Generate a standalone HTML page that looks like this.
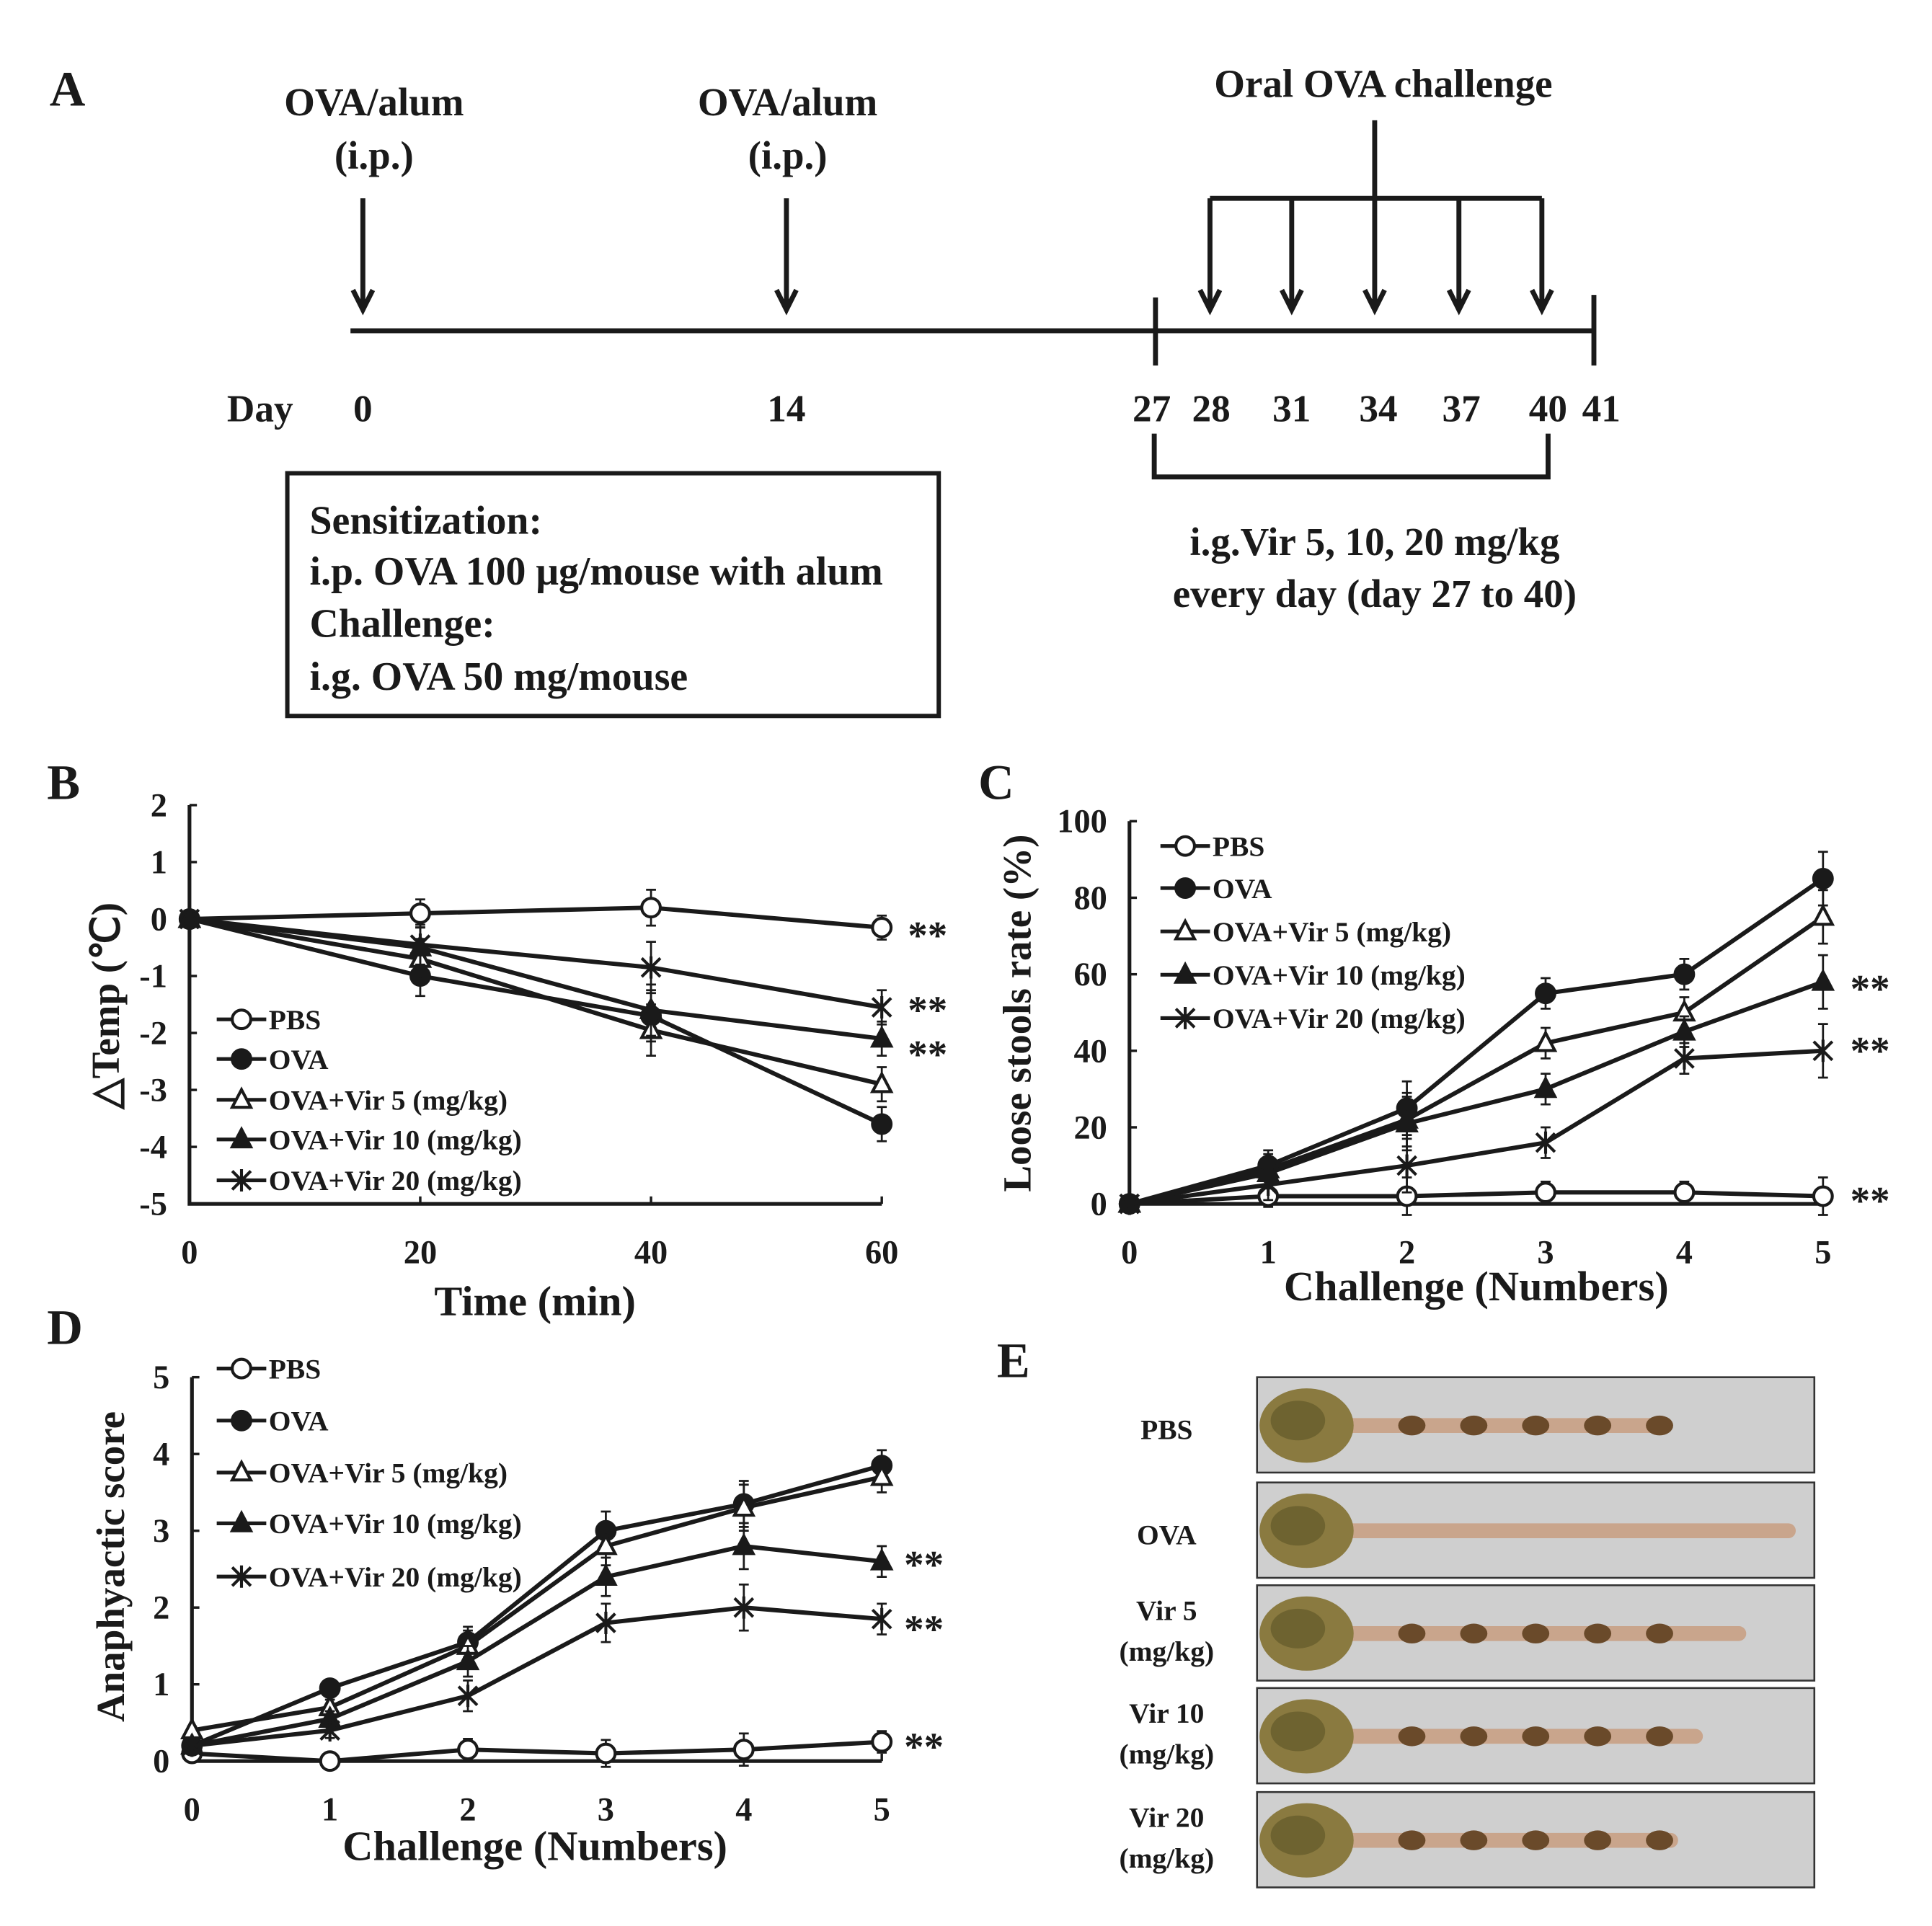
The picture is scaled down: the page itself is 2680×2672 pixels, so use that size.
<!DOCTYPE html>
<html><head><meta charset="utf-8"><style>
html,body{margin:0;padding:0;background:#fff}
svg{display:block}
text{font-family:"Liberation Serif",serif;font-weight:bold;fill:#1a1a1a}
</style></head><body>
<svg id="fig" width="2680" height="2672" viewBox="0 0 1560 1555" xmlns="http://www.w3.org/2000/svg">
<g id="panelA" stroke="#1a1a1a" stroke-width="4" fill="none">
<text x="40" y="85" font-size="40" stroke="none">A</text>
<text x="302" y="93" font-size="32" text-anchor="middle" stroke="none">OVA/alum</text>
<text x="302" y="136" font-size="32" text-anchor="middle" stroke="none">(i.p.)</text>
<text x="636" y="93" font-size="32" text-anchor="middle" stroke="none">OVA/alum</text>
<text x="636" y="136" font-size="32" text-anchor="middle" stroke="none">(i.p.)</text>
<text x="1117" y="78" font-size="32" text-anchor="middle" stroke="none">Oral OVA challenge</text>
<g>
<path d="M293,160 V250 M285,234 L293,250 L301,234"/>
<path d="M635,160 V250 M627,234 L635,250 L643,234"/>
<path d="M977,160 V250 M969,234 L977,250 L985,234"/>
<path d="M1043,160 V250 M1035,234 L1043,250 L1051,234"/>
<path d="M1110,160 V250 M1102,234 L1110,250 L1118,234"/>
<path d="M1178,160 V250 M1170,234 L1178,250 L1186,234"/>
<path d="M1245,160 V250 M1237,234 L1245,250 L1253,234"/>
</g>
<line x1="283" y1="267" x2="1287" y2="267"/>
<line x1="933" y1="240" x2="933" y2="295"/>
<line x1="1287" y1="238" x2="1287" y2="295"/>
<line x1="1110" y1="97" x2="1110" y2="160"/>
<line x1="977" y1="160" x2="1245" y2="160"/>
<g stroke="none" font-size="31" text-anchor="middle">
<text x="210" y="340">Day</text><text x="293" y="340">0</text><text x="635" y="340">14</text>
<text x="930" y="340">27</text><text x="978" y="340">28</text><text x="1043" y="340">31</text>
<text x="1113" y="340">34</text><text x="1180" y="340">37</text><text x="1250" y="340">40</text><text x="1293" y="340">41</text>
<text x="1110" y="448" font-size="32">i.g.Vir 5, 10, 20 mg/kg</text>
<text x="1110" y="490" font-size="32">every day (day 27 to 40)</text>
</g>
<path d="M932,350 V385 H1250 V350"/>
<rect x="232" y="382" width="526" height="196" stroke-width="3.5"/>
<g stroke="none" font-size="32.5">
<text x="250" y="431">Sensitization:</text>
<text x="250" y="472">i.p. OVA 100 μg/mouse with alum</text>
<text x="250" y="514">Challenge:</text>
<text x="250" y="557">i.g. OVA 50 mg/mouse</text>
</g>
</g>
<g id="charts"></g>
<g id="panelE"></g>
</svg>
<script>
// Panel B data
const bX = [0, 20, 40, 60];
const bPBS = [0, 0.1, 0.2, -0.15];
const bOVA = [0, -1.0, -1.7, -3.6];
const bVir5 = [0, -0.7, -1.95, -2.9];
const bVir10 = [0, -0.5, -1.6, -2.1];
const bVir20 = [0, -0.45, -0.85, -1.55];
const bErr = [0, 0.35, 0.45, 0.3];
const bXTicks = [0, 20, 40, 60];
const bYTicks = [2, 1, 0, -1, -2, -3, -4, -5];
// Panel C data
const cX = [0, 1, 2, 3, 4, 5];
const cPBS = [0, 2, 2, 3, 3, 2];
const cOVA = [0, 10, 25, 55, 60, 85];
const cVir5 = [0, 9, 22, 42, 50, 75];
const cVir10 = [0, 8, 21, 30, 45, 58];
const cVir20 = [0, 5, 10, 16, 38, 40];
const cErr = [0, 4, 7, 4, 4, 7];
const cXTicks = [0, 1, 2, 3, 4, 5];
const cYTicks = [0, 20, 40, 60, 80, 100];
// Panel D data
const dX = [0, 1, 2, 3, 4, 5];
const dPBS = [0.1, 0, 0.15, 0.1, 0.15, 0.25];
const dOVA = [0.2, 0.95, 1.55, 3.0, 3.35, 3.85];
const dVir5 = [0.4, 0.7, 1.5, 2.8, 3.3, 3.7];
const dVir10 = [0.2, 0.55, 1.3, 2.4, 2.8, 2.6];
const dVir20 = [0.2, 0.4, 0.85, 1.8, 2.0, 1.85];
const dErr = [0.05, 0.1, 0.2, 0.25, 0.3, 0.2];
const dXTicks = [0, 1, 2, 3, 4, 5];
const dYTicks = [0, 1, 2, 3, 4, 5];
const legendNames = ["PBS", "OVA", "OVA+Vir  5  (mg/kg)", "OVA+Vir 10 (mg/kg)", "OVA+Vir 20 (mg/kg)"];
const markers = ["oc", "fc", "ot", "ft", "st"];

const NS = "http://www.w3.org/2000/svg";
const root = document.getElementById('charts');
function mk(tag, attrs, parent) {
  const e = document.createElementNS(NS, tag);
  for (const k in attrs) e.setAttribute(k, attrs[k]);
  (parent || root).appendChild(e);
  return e;
}
function txt(x, y, s, size, parent, anchor, extra) {
  const t = mk('text', Object.assign({x: x, y: y, 'font-size': size, 'text-anchor': anchor || 'start'}, extra || {}), parent);
  t.textContent = s;
  return t;
}
function marker(g, type, x, y, r) {
  const st = {stroke: '#1a1a1a', 'stroke-width': 2.4};
  if (type === 'oc') mk('circle', Object.assign({cx: x, cy: y, r: r, fill: '#fff'}, st), g);
  else if (type === 'fc') mk('circle', Object.assign({cx: x, cy: y, r: r, fill: '#1a1a1a'}, st), g);
  else if (type === 'ot' || type === 'ft') mk('path', Object.assign({d: `M${x},${y - r * 1.1} L${x + r},${y + r * 0.8} L${x - r},${y + r * 0.8} Z`, fill: type === 'ft' ? '#1a1a1a' : '#fff'}, st), g);
  else mk('path', Object.assign({d: `M${x - r},${y - r} L${x + r},${y + r} M${x - r},${y + r} L${x + r},${y - r} M${x},${y - r * 1.2} L${x},${y + r * 1.2}`, fill: 'none'}, st), g);
}
function chart(cfg) {
  const g = mk('g', {});
  
  
  const sx = v => cfg.x0 + (v - cfg.xmin) / (cfg.xmax - cfg.xmin) * (cfg.x1 - cfg.x0);
  const sy = v => cfg.y0 - (v - cfg.ymin) / (cfg.ymax - cfg.ymin) * (cfg.y0 - cfg.y1);
  const ax = mk('path', {d: `M${cfg.x0},${cfg.y1} V${cfg.y0} H${cfg.x1}`, fill: 'none', stroke: '#1a1a1a', 'stroke-width': 3}, g);
  
  
  cfg.yTicks.forEach(v => {
    mk('line', {x1: cfg.x0, x2: cfg.x0 + 6, y1: sy(v), y2: sy(v), stroke: '#1a1a1a', 'stroke-width': 2}, g);
    const t = txt(cfg.x0 - 18, sy(v) + 9, String(v), 27, g, 'end');
    
    
  });
  cfg.xTicks.forEach(v => {
    mk('line', {x1: sx(v), x2: sx(v), y1: cfg.y0, y2: cfg.y0 - 6, stroke: '#1a1a1a', 'stroke-width': 2}, g);
    const t = txt(sx(v), cfg.y0 + 48, String(v), 27, g, 'middle');
    
    
  });
  const xt = txt(cfg.xtx, cfg.xty, cfg.xtitle, 34, g, 'middle');
  
  
  const yt = txt(0, 0, cfg.ytitle, 32, g, 'middle', {transform: `translate(${cfg.ytx},${cfg.yty}) rotate(-90)`});
  
  
  const pl = txt(cfg.lx, cfg.ly, cfg.label, 40, g);
  
  
  cfg.series.forEach((ys, i) => {
    const sg = mk('g', {}, g);
    
    
    const d = ys.map((v, j) => (j ? 'L' : 'M') + sx(cfg.xs[j]) + ',' + sy(v)).join(' ');
    mk('path', {d: d, fill: 'none', stroke: '#1a1a1a', 'stroke-width': 3.5}, sg);
    ys.forEach((v, j) => {
      const e = cfg.err[j] * (i === 0 ? 0.7 : 1);
      if (e > 0) mk('path', {d: `M${sx(cfg.xs[j])},${sy(v + e)} V${sy(v - e)} M${sx(cfg.xs[j]) - 4},${sy(v + e)} H${sx(cfg.xs[j]) + 4} M${sx(cfg.xs[j]) - 4},${sy(v - e)} H${sx(cfg.xs[j]) + 4}`, stroke: '#1a1a1a', 'stroke-width': 1.6, fill: 'none'}, sg);
      marker(sg, markers[i], sx(cfg.xs[j]), sy(v), 7.5);
    });
  });
  cfg.legY.forEach((y, i) => {
    const lg = mk('g', {}, g);
    
    
    mk('line', {x1: cfg.legX, x2: cfg.legX + 40, y1: y, y2: y, stroke: '#1a1a1a', 'stroke-width': 3}, lg);
    marker(lg, markers[i], cfg.legX + 20, y, 7.5);
    txt(cfg.legX + 42, y + 8, legendNames[i], 23, lg);
  });
  cfg.stars.forEach(y => {
    const s = txt(cfg.starX, y + 14, '**', 32, g);
    
    
  });
}
chart({name: 'panel-b-temp-chart', label: 'B', lx: 38, ly: 645, x0: 153, x1: 712, y0: 972, y1: 650, xmin: 0, xmax: 60, ymin: -5, ymax: 2,
  xs: bX, series: [bPBS, bOVA, bVir5, bVir10, bVir20], err: bErr, xTicks: bXTicks, yTicks: bYTicks,
  xtitle: 'Time (min)', xtx: 432, xty: 1062, ytitle: '△Temp (℃)', ytx: 96, yty: 812,
  legX: 175, legY: [823, 855, 888, 920, 953], starX: 733, stars: [752, 812, 848]});
chart({name: 'panel-c-loose-stools-chart', label: 'C', lx: 790, ly: 645, x0: 912, x1: 1472, y0: 972, y1: 663, xmin: 0, xmax: 5, ymin: 0, ymax: 100,
  xs: cX, series: [cPBS, cOVA, cVir5, cVir10, cVir20], err: cErr, xTicks: cXTicks, yTicks: cYTicks,
  xtitle: 'Challenge (Numbers)', xtx: 1192, xty: 1050, ytitle: 'Loose stools rate (%)', ytx: 832, yty: 818,
  legX: 937, legY: [683, 717, 752, 787, 822], starX: 1494, stars: [795, 845, 966]});
chart({name: 'panel-d-anaphylactic-chart', label: 'D', lx: 38, ly: 1085, x0: 155, x1: 712, y0: 1422, y1: 1112, xmin: 0, xmax: 5, ymin: 0, ymax: 5,
  xs: dX, series: [dPBS, dOVA, dVir5, dVir10, dVir20], err: dErr, xTicks: dXTicks, yTicks: dYTicks,
  xtitle: 'Challenge (Numbers)', xtx: 432, xty: 1502, ytitle: 'Anaphyactic score', ytx: 100, yty: 1265,
  legX: 175, legY: [1105, 1147, 1189, 1230, 1273], starX: 730, stars: [1260, 1312, 1407]});

// Panel E photos
const pe = document.getElementById('panelE');
const eLabels = [["PBS"], ["OVA"], ["Vir 5", "(mg/kg)"], ["Vir 10", "(mg/kg)"], ["Vir 20", "(mg/kg)"]];
const eTops = [1112, 1197, 1280, 1363, 1447];
const eLens = [1350, 1450, 1410, 1375, 1355];
txt(805, 1112, 'E', 40, pe);
eTops.forEach((t, i) => {
  const g = mk('g', {}, pe);
  
  
  mk('rect', {x: 1015, y: t, width: 450, height: 77, fill: '#cfcfcf', stroke: '#333', 'stroke-width': 1.5}, g);
  const cy = t + 39;
  mk('rect', {x: 1060, y: cy - 6, width: eLens[i] - 1060, height: 12, rx: 6, fill: '#c9a58c'}, g);
  mk('ellipse', {cx: 1055, cy: cy, rx: 38, ry: 30, fill: '#8a7a40'}, g);
  mk('ellipse', {cx: 1048, cy: cy - 4, rx: 22, ry: 16, fill: '#6e6330'}, g);
  if (i !== 1) for (let k = 0; k < 5; k++) mk('ellipse', {cx: 1140 + k * 50, cy: cy, rx: 11, ry: 8, fill: '#6a4a2a'}, g);
  eLabels[i].forEach((s, k) => txt(942, (eLabels[i].length === 1 ? t + 50 : t + 28 + k * 33), s, 23, g, 'middle'));
});
</script>
</body></html>
